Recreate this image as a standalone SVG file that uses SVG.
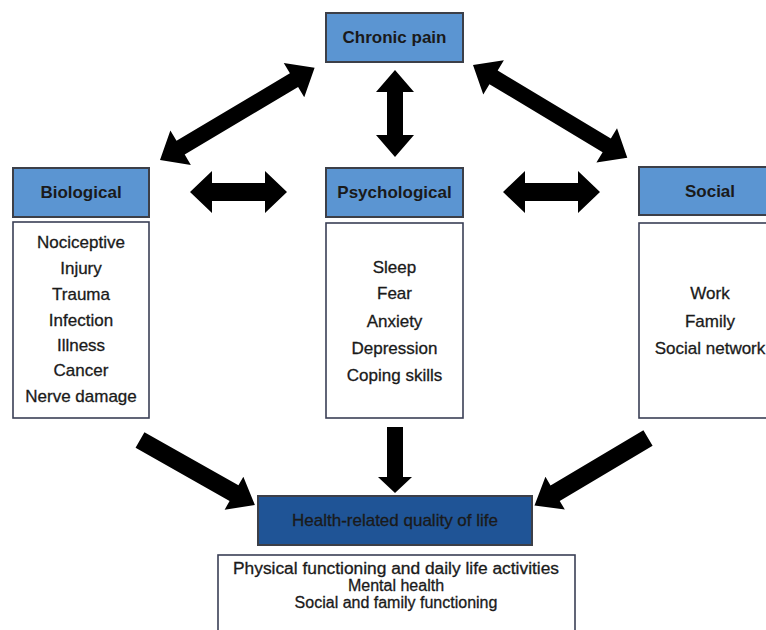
<svg xmlns="http://www.w3.org/2000/svg" width="766" height="630" viewBox="0 0 766 630">
<style>
.hdr{fill:#5b95d2;stroke:#3c3f48;stroke-width:2}
.hdr2{fill:#1f5496;stroke:#3c3f48;stroke-width:2}
.body{fill:#ffffff;stroke:#3a3f55;stroke-width:1.6}
.ht{font-family:"Liberation Sans",Arial,sans-serif;font-size:17px;font-weight:bold;fill:#1a1a1a;text-anchor:middle}
.it{font-family:"Liberation Sans",Arial,sans-serif;font-size:17px;fill:#1a1a1a;stroke:#1a1a1a;stroke-width:0.3;text-anchor:middle}
.it2{font-family:"Liberation Sans",Arial,sans-serif;font-size:16px;fill:#1a1a1a;stroke:#1a1a1a;stroke-width:0.3;text-anchor:middle}
.arr{fill:#000000}
</style>
<defs>
<path id="dbl" d="M0,0 L24,-20 L24,-8 L156,-8 L156,-20 L180,0 L156,20 L156,8 L24,8 L24,20 Z"/>
<path id="sgl" d="M0,-9 L108,-9 L108,-19 L132,0 L108,19 L108,9 L0,9 Z"/>
</defs>
<rect width="766" height="630" fill="#ffffff"/>

<g id="connectors" class="arr">
<use href="#dbl" transform="translate(160,160) rotate(-30.8)"/>
<use href="#dbl" transform="translate(473,65) rotate(31)"/>
<polygon points="395,70 414,92 403,92 403,135 414,135 395,157 376,135 387,135 387,92 376,92"/>
<polygon points="190,192 212,171 212,183 265,183 265,171 287,192 265,213 265,201 212,201 212,213"/>
<polygon points="503,192 525,171 525,183 578,183 578,171 600,192 578,213 578,201 525,201 525,213"/>
<polygon points="387,427 403,427 403,477 412,477 395,493 378,477 387,477"/>
<use href="#sgl" transform="translate(140,440) rotate(29.5)"/>
<use href="#sgl" transform="translate(648,438) rotate(149.3)"/>
</g>

<g id="chronic-pain">
<rect class="hdr" x="326" y="13" width="137" height="49"/>
<text class="ht" x="394.5" y="43">Chronic pain</text>
</g>

<g id="biological">
<rect class="hdr" x="13" y="168" width="136" height="49"/>
<text class="ht" x="81" y="198">Biological</text>
<rect class="body" x="13" y="222" width="136" height="196"/>
<text class="it" x="81" y="248">Nociceptive</text>
<text class="it" x="81" y="274">Injury</text>
<text class="it" x="81" y="300">Trauma</text>
<text class="it" x="81" y="326">Infection</text>
<text class="it" x="81" y="351">Illness</text>
<text class="it" x="81" y="376">Cancer</text>
<text class="it" x="81" y="402">Nerve damage</text>
</g>

<g id="psychological">
<rect class="hdr" x="326" y="168" width="137" height="49"/>
<text class="ht" x="394.5" y="198">Psychological</text>
<rect class="body" x="326" y="223" width="137" height="195"/>
<text class="it" x="394.5" y="273">Sleep</text>
<text class="it" x="394.5" y="299">Fear</text>
<text class="it" x="394.5" y="327">Anxiety</text>
<text class="it" x="394.5" y="354">Depression</text>
<text class="it" x="394.5" y="381">Coping skills</text>
</g>

<g id="social">
<rect class="hdr" x="639" y="167" width="142" height="48"/>
<text class="ht" x="710" y="197">Social</text>
<rect class="body" x="639" y="223" width="142" height="195"/>
<text class="it" x="710" y="299">Work</text>
<text class="it" x="710" y="327">Family</text>
<text class="it" x="710" y="354">Social network</text>
</g>

<g id="hrqol">
<rect class="hdr2" x="258" y="496" width="274" height="49"/>
<text class="ht" x="395" y="526" style="font-weight:normal;stroke:#1a1a1a;stroke-width:0.3">Health-related quality of life</text>
<rect class="body" x="218" y="555" width="357" height="80"/>
<text class="it2" x="396" y="574" textLength="326" lengthAdjust="spacingAndGlyphs">Physical functioning and daily life activities</text>
<text class="it2" x="396" y="591">Mental health</text>
<text class="it2" x="396" y="608">Social and family functioning</text>
</g>
</svg>
